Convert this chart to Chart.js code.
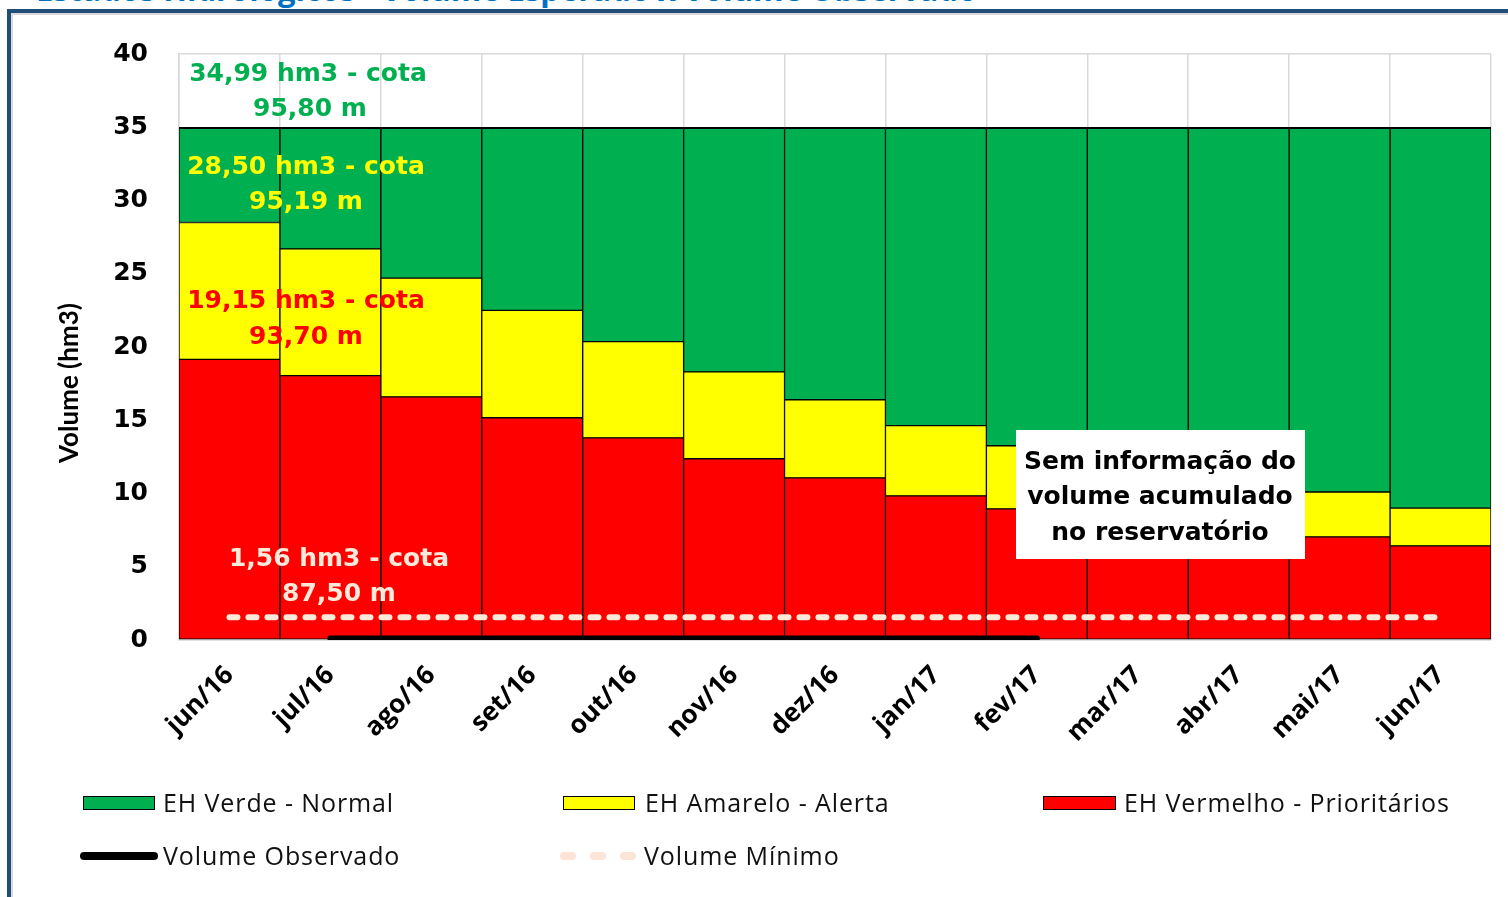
<!DOCTYPE html>
<html>
<head>
<meta charset="utf-8">
<script src="https://cdn.jsdelivr.net/npm/chart.js@4.4.1/dist/chart.umd.min.js"></script>
<style>
  body { margin: 0; background: #fff; width: 1508px; height: 897px; overflow: hidden; position: relative; font-family: "Open Sans", sans-serif; }
  #title { position: absolute; left: 36px; top: -28px; font: bold 31px "Open Sans", sans-serif; color: #0070c0; white-space: nowrap; line-height: 34px; }
  #frame { position: absolute; left: 7px; top: 9px; right: -10px; bottom: -10px; border-top: 4px solid #1f4e79; border-left: 4px solid #1f4e79; background: #fff; }
  #frame2 { position: absolute; left: 11px; top: 13px; right: -10px; bottom: -10px; border-top: 2px solid #d9d9d9; border-left: 2px solid #d9d9d9; }
  #wrap { position: absolute; left: 0; top: 0; width: 1508px; height: 897px; }
  .leg { position: absolute; font-size: 25px; color: #111; white-space: nowrap; letter-spacing: 0.9px; }
  .sw { position: absolute; height: 14px; border: 1px solid #000; box-sizing: border-box; }
</style>
</head>
<body>
<div id="title">Estados Hidrológicos - Volume Esperado x Volume Observado</div>
<div id="frame"></div>
<div id="frame2"></div>
<div id="wrap"><canvas id="chart" width="1508" height="897"></canvas></div>

<div class="sw" style="left:83px; top:796px; width:72px; background:#00b050"></div>
<div class="leg" style="left:163px; top:785px">EH Verde - Normal</div>
<div class="sw" style="left:563px; top:796px; width:72px; background:#ffff00"></div>
<div class="leg" style="left:645px; top:785px">EH Amarelo - Alerta</div>
<div class="sw" style="left:1043px; top:796px; width:73px; background:#ff0000"></div>
<div class="leg" style="left:1124px; top:785px">EH Vermelho - Prioritários</div>
<div style="position:absolute; left:80px; top:852px; width:78px; height:8px; border-radius:4px; background:#000"></div>
<div class="leg" style="left:163px; top:838px">Volume Observado</div>
<div style="position:absolute; left:560px; top:852px; width:16px; height:8px; border-radius:4px; background:#fce4d6"></div>
<div style="position:absolute; left:590px; top:852px; width:16px; height:8px; border-radius:4px; background:#fce4d6"></div>
<div style="position:absolute; left:620px; top:852px; width:16px; height:8px; border-radius:4px; background:#fce4d6"></div>
<div class="leg" style="left:644px; top:838px">Volume Mínimo</div>

<script>
// meses
const labels = ['jun/16', 'jul/16', 'ago/16', 'set/16', 'out/16', 'nov/16', 'dez/16', 'jan/17', 'fev/17', 'mar/17', 'abr/17', 'mai/17', 'jun/17'];

// limites dos estados hidrológicos (hm3)
const vermelhoTopo = [19.15, 18.05, 16.6, 15.17, 13.8, 12.37, 11.07, 9.84, 8.95, 8.3, 7.6, 7.04, 6.43];
const amareloTopo = [28.5, 26.7, 24.7, 22.5, 20.37, 18.3, 16.4, 14.63, 13.26, 12.1, 11.0, 10.1, 9.0];
const verdeTopo = [34.99, 34.99, 34.99, 34.99, 34.99, 34.99, 34.99, 34.99, 34.99, 34.99, 34.99, 34.99, 34.99];

// volume observado e volume mínimo
const volumeObservado = [null, 0.1, 0.1, 0.1, 0.1, 0.1, 0.1, 0.1, 0.1, null, null, null, null];
const volumeMinimo = [1.56, 1.56, 1.56, 1.56, 1.56, 1.56, 1.56, 1.56, 1.56, 1.56, 1.56, 1.56, 1.56];

const yTicks = [0, 5, 10, 15, 20, 25, 30, 35, 40];

// stacked segments
const amareloFaixa = amareloTopo.map((v, i) => v - vermelhoTopo[i]);
const verdeFaixa = verdeTopo.map((v, i) => v - amareloTopo[i]);

const annotations = {
  id: 'annotations',
  afterDatasetsDraw(chart) {
    const { ctx, chartArea } = chart;
    const L = chartArea.left;
    ctx.save();
    ctx.textAlign = 'center';
    ctx.textBaseline = 'middle';

    // titulo do eixo y
    ctx.save();
    ctx.translate(70, 383);
    ctx.rotate(-Math.PI / 2);
    ctx.font = 'bold 26px Lato';
    ctx.fillStyle = '#000';
    ctx.fillText('Volume (hm3)', 0, 0);
    ctx.restore();

    ctx.font = 'bold 25px "DejaVu Sans"';
    const txt = (s, dx, py, color) => { ctx.fillStyle = color; ctx.fillText(s, L + dx, py); };
    txt('34,99 hm3 - cota', 129, 74, '#00b050');
    txt('95,80 m', 131, 109, '#00b050');
    txt('28,50 hm3 - cota', 127, 167, '#ffff00');
    txt('95,19 m', 127, 202, '#ffff00');
    txt('19,15 hm3 - cota', 127, 301, '#ff0000');
    txt('93,70 m', 127, 337, '#ff0000');
    txt('1,56 hm3 - cota', 160, 559, '#fde9d9');
    txt('87,50 m', 160, 594, '#fde9d9');

    // caixa "sem informação"
    ctx.fillStyle = '#fff';
    ctx.fillRect(L + 837, 430, 289, 129);
    ctx.fillStyle = '#000';
    ctx.font = 'bold 25px "DejaVu Sans"';
    ctx.fillText('Sem informação do', L + 981, 462);
    ctx.fillText('volume acumulado', L + 981, 497);
    ctx.fillText('no reservatório', L + 981, 533);
    ctx.restore();
  }
};

new Chart(document.getElementById('chart'), {
  type: 'bar',
  data: {
    labels: labels,
    datasets: [
      { type: 'line', label: 'Volume Observado', data: volumeObservado, borderColor: '#000', borderWidth: 6, borderCapStyle: 'round', pointRadius: 0, stack: 'obs', order: 0, spanGaps: false },
      { type: 'line', label: 'Volume Mínimo', data: volumeMinimo, borderColor: '#fde9d9', borderWidth: 6, borderDash: [8, 11], borderCapStyle: 'round', pointRadius: 0, stack: 'min', order: 0 },
      { label: 'EH Vermelho - Prioritários', data: vermelhoTopo, backgroundColor: '#ff0000', borderColor: '#000', borderWidth: 1, stack: 'eh', order: 1 },
      { label: 'EH Amarelo - Alerta', data: amareloFaixa, backgroundColor: '#ffff00', borderColor: '#000', borderWidth: 1, stack: 'eh', order: 1 },
      { label: 'EH Verde - Normal', data: verdeFaixa, backgroundColor: '#00b050', borderColor: '#000', borderWidth: { top: 2, left: 1, right: 1, bottom: 1 }, stack: 'eh', order: 1 }
    ]
  },
  options: {
    responsive: false,
    animation: false,
    layout: { padding: { left: 53, top: 54, right: 17, bottom: 0 } },
    datasets: { bar: { barPercentage: 1, categoryPercentage: 1, borderSkipped: false } },
    plugins: { legend: { display: false }, tooltip: { enabled: false } },
    scales: {
      x: {
        stacked: true,
        grid: { color: '#d9d9d9', lineWidth: 1.5, drawTicks: false, offset: true },
        border: { color: '#d9d9d9', width: 1.5 },
        ticks: { color: '#000', font: { family: 'Open Sans', weight: 'bold', size: 26 }, maxRotation: 45, minRotation: 45, autoSkip: false, padding: 20 },
        afterFit(scale) { scale.height = 257; }
      },
      y: {
        stacked: true,
        min: 0,
        max: 40,
        afterBuildTicks(scale) { scale.ticks = yTicks.map(v => ({ value: v })); },
        grid: { color: '#d9d9d9', lineWidth: 1.5, drawTicks: false },
        border: { color: '#d9d9d9', width: 1.5 },
        ticks: { color: '#000', font: { family: 'DejaVu Sans', weight: 'bold', size: 25 }, padding: 31 },
        afterFit(scale) { scale.width = 126; }
      }
    }
  },
  plugins: [annotations]
});
</script>
</body>
</html>
